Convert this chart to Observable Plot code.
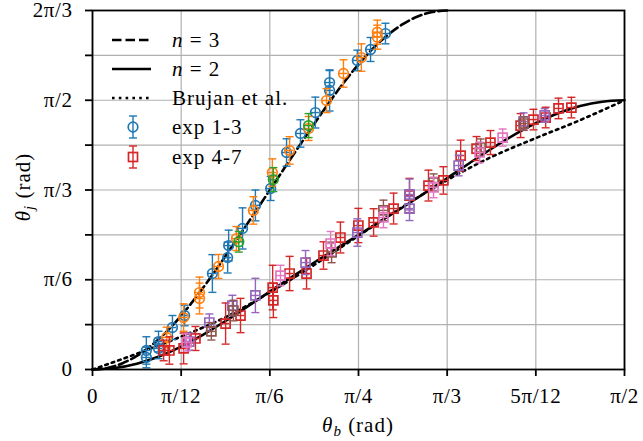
<!DOCTYPE html>
<html><head><meta charset="utf-8">
<script src="https://cdn.jsdelivr.net/npm/d3@7"></script>
<script src="https://cdn.jsdelivr.net/npm/@observablehq/plot@0.6"></script>
<style>
html,body{margin:0;padding:0;background:#fff;}
#chart svg{display:block;}
</style>
</head><body><div id="chart"></div>
<script>
const PI = Math.PI;
// axis ticks
const xTickValues = [0, PI/12, PI/6, PI/4, PI/3, 5*PI/12, PI/2];
const xTickLabels = ["0", "π/12", "π/6", "π/4", "π/3", "5π/12", "π/2"];
const yTickValues = [0, PI/12, PI/6, PI/4, PI/3, 5*PI/12, PI/2, 7*PI/12, 2*PI/3];
const yTickLabels = ["0", "", "π/6", "", "π/3", "", "π/2", "", "2π/3"];

// model curves (theta_b, theta_j in rad)
const n3_b = [0, 0.0436, 0.0873, 0.1309, 0.1745, 0.2182, 0.2618, 0.3054, 0.3491, 0.3927, 0.4363, 0.4800, 0.5236, 0.5672, 0.6109, 0.6545, 0.6981, 0.7418, 0.7854, 0.8290, 0.8727, 0.9163, 0.9599, 1.0036, 1.0472];
const n3_j = [0, 0.0088, 0.0353, 0.0794, 0.1412, 0.2199, 0.3140, 0.4211, 0.5381, 0.6617, 0.7889, 0.9178, 1.0472, 1.1766, 1.3055, 1.4327, 1.5563, 1.6733, 1.7804, 1.8745, 1.9532, 2.0150, 2.0591, 2.0856, 2.0944];
const n2_b = [0, 0.0654, 0.1309, 0.1963, 0.2618, 0.3272, 0.3927, 0.4581, 0.5236, 0.5890, 0.6545, 0.7199, 0.7854, 0.8508, 0.9163, 0.9817, 1.0472, 1.1126, 1.1781, 1.2435, 1.3090, 1.3744, 1.4399, 1.5053, 1.5708];
const n2_j = [0, 0.0086, 0.0341, 0.0762, 0.1334, 0.2034, 0.2828, 0.3678, 0.4546, 0.5406, 0.6242, 0.7055, 0.7854, 0.8653, 0.9466, 1.0302, 1.1162, 1.2030, 1.2880, 1.3674, 1.4374, 1.4946, 1.5367, 1.5622, 1.5708];
const brujan_b = [0, 0.1309, 0.2618, 0.3927, 0.5236, 0.6545, 0.7854, 0.9163, 1.0472, 1.1781, 1.3090, 1.4399, 1.5708];
const brujan_j = [0, 0.092, 0.192, 0.305, 0.450, 0.610, 0.780, 0.950, 1.105, 1.240, 1.350, 1.455, 1.5708];

// experiments 1-3 (circles)
const exp1_b = [0.159, 0.159, 0.195, 0.195, 0.236, 0.272, 0.354, 0.399, 0.402, 0.443, 0.481, 0.526, 0.573, 0.614, 0.658, 0.700, 0.700, 0.782, 0.821, 0.865];
const exp1_j = [0.111, 0.070, 0.123, 0.163, 0.245, 0.315, 0.560, 0.653, 0.723, 0.823, 0.957, 1.056, 1.266, 1.377, 1.499, 1.628, 1.674, 1.803, 1.867, 1.960];
const exp1_e = [0.08, 0.06, 0.06, 0.06, 0.07, 0.06, 0.11, 0.09, 0.09, 0.12, 0.09, 0.07, 0.08, 0.08, 0.09, 0.12, 0.07, 0.06, 0.07, 0.06];
const exp2_b = [0.219, 0.269, 0.316, 0.316, 0.372, 0.425, 0.475, 0.531, 0.582, 0.638, 0.691, 0.741, 0.794, 0.841, 0.841];
const exp2_j = [0.187, 0.303, 0.449, 0.414, 0.601, 0.764, 0.928, 1.149, 1.278, 1.406, 1.569, 1.727, 1.820, 1.968, 1.939];
const exp2_e = [0.06, 0.08, 0.09, 0.09, 0.07, 0.07, 0.08, 0.08, 0.08, 0.07, 0.07, 0.08, 0.08, 0.07, 0.07];
const exp3_b = [0.432, 0.534, 0.638];
const exp3_j = [0.745, 1.108, 1.423];
const exp3_e = [0.06, 0.07, 0.07];
// experiments 4-7 (squares)
const exp4_b = [0.210, 0.227, 0.269, 0.304, 0.393, 0.437, 0.532, 0.534, 0.582, 0.632, 0.682, 0.732, 0.785, 0.830, 0.889, 0.936, 0.992, 1.036, 1.087, 1.134, 1.175, 1.264, 1.302, 1.338, 1.376, 1.414];
const exp4_j = [0.111, 0.111, 0.123, 0.181, 0.268, 0.315, 0.478, 0.403, 0.560, 0.560, 0.665, 0.770, 0.840, 0.858, 0.939, 1.015, 1.073, 1.103, 1.248, 1.289, 1.324, 1.423, 1.458, 1.470, 1.523, 1.528];
const exp4_e = [0.06, 0.08, 0.09, 0.07, 0.12, 0.10, 0.13, 0.10, 0.10, 0.09, 0.08, 0.09, 0.10, 0.08, 0.09, 0.10, 0.09, 0.08, 0.09, 0.07, 0.07, 0.07, 0.06, 0.06, 0.06, 0.06];
const exp5_b = [0.286, 0.345, 0.413, 0.481, 0.629, 0.782, 0.936, 0.936, 1.081, 1.273, 1.335];
const exp5_j = [0.163, 0.274, 0.373, 0.432, 0.624, 0.799, 1.021, 0.939, 1.190, 1.447, 1.482];
const exp5_e = [0.05, 0.05, 0.06, 0.10, 0.07, 0.08, 0.09, 0.07, 0.06, 0.05, 0.04];
const exp6_b = [0.351, 0.416, 0.706, 0.859, 1.007, 1.146, 1.273];
const exp6_j = [0.222, 0.344, 0.683, 0.928, 1.091, 1.295, 1.435];
const exp6_e = [0.05, 0.06, 0.06, 0.06, 0.05, 0.05, 0.04];
const exp7_b = [0.278, 0.555, 0.703, 0.859, 1.007, 1.143, 1.211];
const exp7_j = [0.158, 0.548, 0.735, 0.887, 1.062, 1.266, 1.353];
const exp7_e = [0.05, 0.06, 0.07, 0.06, 0.06, 0.06, 0.05];
const xErr = 0.012;

const palette = {blue: "#1f77b4", orange: "#ff7f0e", green: "#2ca02c", red: "#d62728", purple: "#9467bd", brown: "#8c564b", pink: "#e377c2"};
const FONT = "'Liberation Serif', 'Times New Roman', serif";

const line = (b, j) => b.map((v, i) => ({b: v, j: j[i]}));
const pts = (b, j, e) => b.map((v, i) => ({b: v, j: j[i], e: e[i]}));

const circles = [
  {data: pts(exp1_b, exp1_j, exp1_e), color: palette.blue},
  {data: pts(exp2_b, exp2_j, exp2_e), color: palette.orange},
  {data: pts(exp3_b, exp3_j, exp3_e), color: palette.green}
];
const squares = [
  {data: pts(exp4_b, exp4_j, exp4_e), color: palette.red},
  {data: pts(exp5_b, exp5_j, exp5_e), color: palette.purple},
  {data: pts(exp6_b, exp6_j, exp6_e), color: palette.brown},
  {data: pts(exp7_b, exp7_j, exp7_e), color: palette.pink}
];

const cap = {draw(ctx, size) { const r = Math.sqrt(size / Math.PI); ctx.moveTo(-r, 0); ctx.lineTo(r, 0); }};

function seriesMarks(list, symbol, r) {
  const m = [];
  for (const s of list) {
    m.push(Plot.ruleX(s.data, {x: "b", y1: d => d.j - d.e, y2: d => d.j + d.e, stroke: s.color, strokeWidth: 1.4}));
    m.push(Plot.ruleY(s.data, {y: "j", x1: d => d.b - xErr, x2: d => d.b + xErr, stroke: s.color, strokeWidth: 1.4}));
    m.push(Plot.dot(s.data, {x: "b", y: d => d.j + d.e, symbol: cap, r: 4, stroke: s.color, strokeWidth: 1.4, fill: "none"}));
    m.push(Plot.dot(s.data, {x: "b", y: d => d.j - d.e, symbol: cap, r: 4, stroke: s.color, strokeWidth: 1.4, fill: "none"}));
    m.push(Plot.dot(s.data, {x: "b", y: "j", symbol, r, stroke: s.color, strokeWidth: 1.7, fill: "none"}));
  }
  return m;
}

const chart = Plot.plot({
  width: 643, height: 441,
  marginLeft: 92, marginRight: 19, marginTop: 10, marginBottom: 72,
  style: {fontFamily: FONT, fontSize: "21px", letterSpacing: "0.6px", background: "#fff", color: "#000"},
  x: {domain: [0, PI/2], label: null},
  y: {domain: [0, 2*PI/3], label: null},
  marks: [
    Plot.gridX(xTickValues, {stroke: "#b0b0b0", strokeOpacity: 1, strokeWidth: 1.2}),
    Plot.gridY(yTickValues, {stroke: "#b0b0b0", strokeOpacity: 1, strokeWidth: 1.2}),
    Plot.line(line(n3_b, n3_j), {x: "b", y: "j", stroke: "#000", strokeWidth: 2.6, strokeDasharray: "9.5,4", curve: "monotone-x"}),
    Plot.line(line(n2_b, n2_j), {x: "b", y: "j", stroke: "#000", strokeWidth: 2.6, curve: "monotone-x"}),
    Plot.line(line(brujan_b, brujan_j), {x: "b", y: "j", stroke: "#000", strokeWidth: 2.6, strokeDasharray: "2.6,4.2", curve: "monotone-x"}),
    ...seriesMarks(circles, "circle", 4.8),
    ...seriesMarks(squares, "square", 5.1),
    Plot.frame({stroke: "#000", strokeWidth: 1.8}),
    Plot.axisX(xTickValues, {tickFormat: d => xTickLabels[xTickValues.indexOf(d)], tickSize: 7, tickPadding: 12, strokeWidth: 1.8, label: null}),
    Plot.axisY(yTickValues, {tickFormat: d => yTickLabels[yTickValues.indexOf(d)], tickSize: 7, tickPadding: 13, strokeWidth: 1.8, label: null})
  ]
});
document.getElementById("chart").appendChild(chart);

// axis titles and legend
const svg = d3.select(chart);
const t = svg.append("g").attr("font-family", FONT).attr("font-size", 21).attr("fill", "#000")
  .attr("text-anchor", "start").style("letter-spacing", "1px");
const xl = t.append("text").attr("x", 358).attr("y", 432).attr("text-anchor", "middle");
xl.append("tspan").attr("font-style", "italic").text("θ");
xl.append("tspan").attr("font-style", "italic").attr("font-size", 15).attr("dy", 4).text("b");
xl.append("tspan").attr("dy", -4).text(" (rad)");
const yl = t.append("text").attr("transform", "translate(30,187) rotate(-90)").attr("text-anchor", "middle");
yl.append("tspan").attr("font-style", "italic").text("θ");
yl.append("tspan").attr("font-style", "italic").attr("font-size", 15).attr("dy", 4).text("j");
yl.append("tspan").attr("dy", -4).text(" (rad)");

const legendLines = [
  {dash: "9.5,4", y: 40, parts: [["n", "italic"], [" = 3", "normal"]]},
  {dash: null, y: 69, parts: [["n", "italic"], [" = 2", "normal"]]},
  {dash: "2.6,4.2", y: 98, parts: [["Brujan et al.", "normal"]]}
];
for (const L of legendLines) {
  const ln = t.append("line").attr("x1", 112).attr("x2", 151).attr("y1", L.y).attr("y2", L.y)
    .attr("stroke", "#000").attr("stroke-width", 2.6);
  if (L.dash) ln.attr("stroke-dasharray", L.dash);
  const tx = t.append("text").attr("x", 172).attr("y", L.y + 7).attr("text-anchor", "start");
  for (const [s, st] of L.parts) tx.append("tspan").attr("font-style", st).text(s);
}
const legendPts = [
  {y: 127, color: palette.blue, shape: "circle", label: "exp 1-3"},
  {y: 157, color: palette.red, shape: "square", label: "exp 4-7"}
];
for (const P of legendPts) {
  const g = t.append("g").attr("stroke", P.color).attr("fill", "none").attr("stroke-width", 1.4);
  g.append("line").attr("x1", 133).attr("x2", 133).attr("y1", P.y - 11).attr("y2", P.y + 11);
  g.append("line").attr("x1", 129).attr("x2", 137).attr("y1", P.y - 11).attr("y2", P.y - 11);
  g.append("line").attr("x1", 129).attr("x2", 137).attr("y1", P.y + 11).attr("y2", P.y + 11);
  if (P.shape === "circle") g.append("circle").attr("cx", 133).attr("cy", P.y).attr("r", 4.8).attr("stroke-width", 1.7);
  else g.append("rect").attr("x", 128.5).attr("y", P.y - 4.5).attr("width", 9).attr("height", 9).attr("stroke-width", 1.7);
  t.append("text").attr("x", 172).attr("y", P.y + 7).attr("text-anchor", "start").text(P.label);
}
</script></body></html>
